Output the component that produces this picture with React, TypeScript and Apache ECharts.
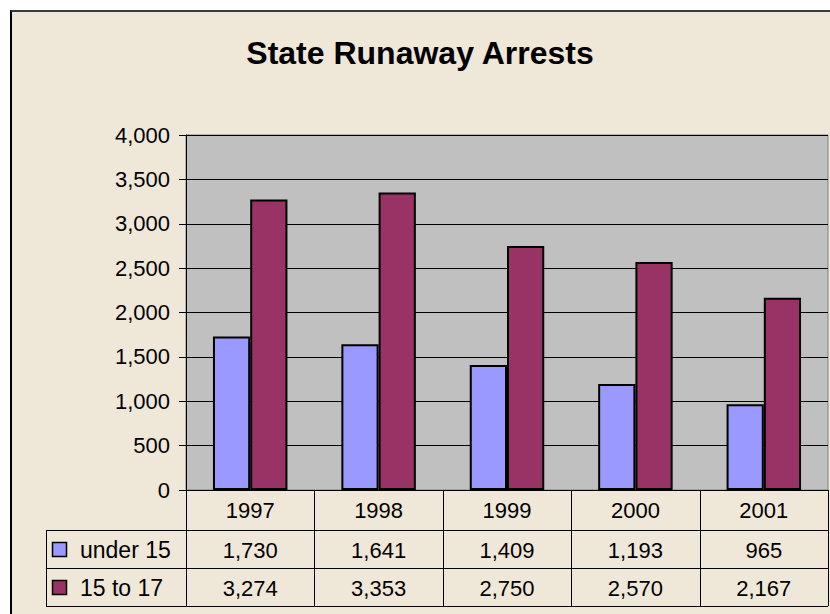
import React, { useEffect, useRef } from "react";
import * as echarts from "echarts";

const titleText = "State Runaway Arrests";
const categories = ["1997", "1998", "1999", "2000", "2001"];
const under15 = [1730, 1641, 1409, 1193, 965];
const age15to17 = [3274, 3353, 2750, 2570, 2167];
const seriesNames = ["under 15", "15 to 17"];
const seriesColors = ["#9999ff", "#993366"];
const yMin = 0;
const yMax = 4000;
const yInterval = 500;

const FONT = '"Liberation Sans", Arial, sans-serif';

export default function App() {
  const ref = useRef<HTMLDivElement>(null);

  useEffect(() => {
    if (!ref.current) return;
    const chart = echarts.init(ref.current, null, { renderer: "svg" });

    const gridLeft = 186;
    const gridTop = 135;
    const gridRightX = 828;
    const gridBottomY = 490;
    const W = 830;
    const H = 614;
    const seriesData = [under15, age15to17];

    chart.setOption({
      animation: false,
      backgroundColor: "transparent",
      title: {
        text: titleText,
        left: 415,
        top: 32,
        textAlign: "center",
        textStyle: { fontFamily: FONT, fontWeight: "bold", fontSize: 32, color: "#000" },
      },
      grid: {
        left: gridLeft,
        top: gridTop,
        right: W - gridRightX,
        bottom: H - gridBottomY,
        show: true,
        backgroundColor: "#c0c0c0",
        borderColor: "#808080",
        borderWidth: 1,
        containLabel: false,
      },
      xAxis: {
        type: "category",
        data: categories,
        axisLine: { show: true, lineStyle: { color: "#000", width: 1 } },
        axisTick: { show: false },
        axisLabel: { show: true, margin: 9, fontSize: 22, fontFamily: FONT, color: "#000" },
        splitLine: { show: false },
      },
      yAxis: {
        type: "value",
        min: yMin,
        max: yMax,
        interval: yInterval,
        axisLine: { show: true, lineStyle: { color: "#000", width: 1 } },
        axisTick: { show: true, length: 7, lineStyle: { color: "#000" } },
        splitLine: { show: true, lineStyle: { color: "#000", width: 1 } },
        axisLabel: {
          fontSize: 22,
          fontFamily: FONT,
          color: "#000",
          margin: 16,
          formatter: (v: number) => v.toLocaleString("en-US"),
        },
      },
      series: seriesNames.map((name, i) => ({
        name,
        type: "bar",
        data: seriesData[i],
        barGap: "0%",
        barCategoryGap: "42%",
        itemStyle: { color: seriesColors[i], borderColor: "#000", borderWidth: 2 },
      })),
    });

    // Data table below the plot
    const rowTops = [gridBottomY, 530, 568, 606];
    const tableLeft = 46;
    const bandW = (gridRightX - gridLeft) / categories.length;
    const graphics: any[] = [];
    const lineStyle = { stroke: "#000", lineWidth: 1 };

    for (let r = 1; r < rowTops.length; r++) {
      graphics.push({
        type: "line",
        shape: { x1: tableLeft, y1: rowTops[r] + 0.5, x2: gridRightX, y2: rowTops[r] + 0.5 },
        style: lineStyle,
        silent: true,
      });
    }
    graphics.push({
      type: "line",
      shape: { x1: tableLeft + 0.5, y1: rowTops[1], x2: tableLeft + 0.5, y2: rowTops[3] },
      style: lineStyle,
      silent: true,
    });

    const centers = categories.map((c) => {
      const p = chart.convertToPixel({ xAxisIndex: 0 }, c) as unknown as number;
      return p;
    });
    const bounds = [centers[0] - bandW / 2, ...centers.map((c) => c + bandW / 2)];
    bounds.forEach((b) => {
      const x = Math.round(b) + 0.5;
      graphics.push({
        type: "line",
        shape: { x1: x, y1: rowTops[0], x2: x, y2: rowTops[3] },
        style: lineStyle,
        silent: true,
      });
    });

    seriesNames.forEach((name, r) => {
      const yc = (rowTops[r + 1] + rowTops[r + 2]) / 2;
      graphics.push({
        type: "rect",
        shape: { x: 52.5, y: Math.round(yc - 7) + 0.5, width: 14, height: 14 },
        style: { fill: seriesColors[r], stroke: "#000", lineWidth: 1.5 },
        silent: true,
      });
      graphics.push({
        type: "text",
        x: 80,
        y: yc + 1,
        style: {
          text: name,
          fontSize: 23,
          fontFamily: FONT,
          fill: "#000",
          align: "left",
          verticalAlign: "middle",
        },
        silent: true,
      });
      seriesData[r].forEach((v, i) => {
        graphics.push({
          type: "text",
          x: centers[i],
          y: yc + 1,
          style: {
            text: v.toLocaleString("en-US"),
            fontSize: 22,
            fontFamily: FONT,
            fill: "#000",
            align: "center",
            verticalAlign: "middle",
          },
          silent: true,
        });
      });
    });

    chart.setOption({ graphic: graphics });

    return () => chart.dispose();
  }, []);

  return (
    <div
      style={{
        position: "fixed",
        left: 0,
        top: 0,
        width: 830,
        height: 614,
        overflow: "hidden",
        background: "#ffffff",
      }}
    >
      <div
        style={{
          position: "absolute",
          left: 10,
          top: 10,
          width: 900,
          height: 700,
          background: "#efe8d9",
          borderTop: "2px solid #3a3a3a",
          borderLeft: "2px solid #000",
        }}
      />
      <div ref={ref} style={{ position: "absolute", left: 0, top: 0, width: 830, height: 614 }} />
    </div>
  );
}
